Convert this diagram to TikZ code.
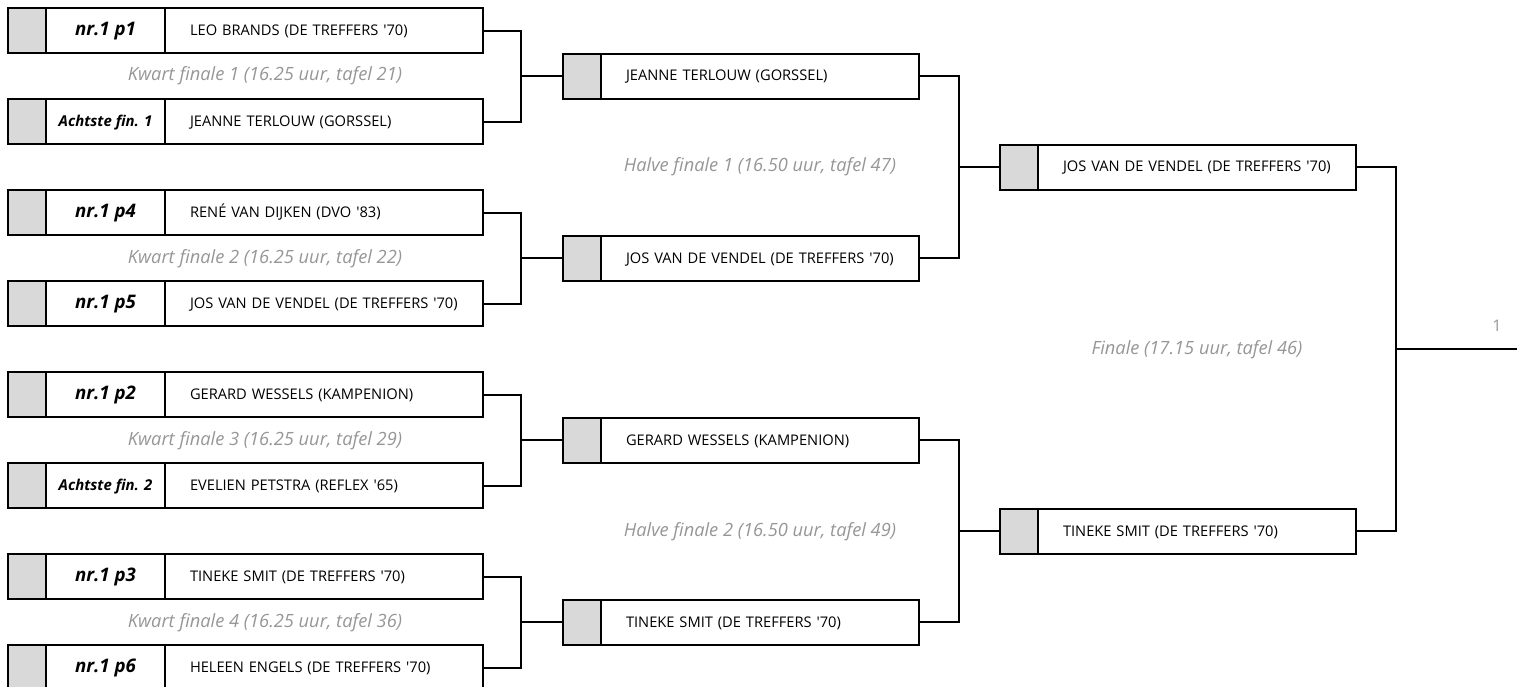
\documentclass[tikz,border=0pt]{standalone}
\usepackage{fontspec}
\setmainfont{Open Sans}
\usepackage{tikz}
\usetikzlibrary{calc}
\definecolor{cellgrey}{RGB}{217,217,217}
\definecolor{labelgrey}{RGB}{150,150,150}
\newcommand{\ap}{\textquotesingle}
\tikzset{
  grey cell/.style={draw, line width=1.5pt, fill=cellgrey, outer sep=0pt, inner sep=0pt,
    minimum width=28.5pt, minimum height=33.75pt},
  seed cell/.style={draw, line width=1.5pt, outer sep=0pt, inner sep=0pt, text height=1.4ex, text depth=0ex,
    minimum width=89.25pt, minimum height=33.75pt, font=\fontsize{14}{16}\selectfont\bfseries\itshape},
  small seed/.style={font=\fontsize{11.2}{13}\selectfont\bfseries\itshape},
  name cell/.style={draw, line width=1.5pt, outer sep=0pt, inner xsep=18.75pt, inner ysep=0pt,
    text height=1.4ex, text depth=0ex,
    minimum height=33.75pt, text width=201pt, align=left, font=\fontsize{11}{13}\selectfont},
  round label/.style={text=labelgrey, text height=1.4ex, text depth=0ex, font=\fontsize{13.7}{16}\selectfont\itshape},
  link/.style={line width=1.5pt}
}
\begin{document}
\begin{tikzpicture}[x=0.75pt, y=-0.75pt]
\useasboundingbox (0,0) rectangle (1521,686);

% kwart finales
\node (g1) at (27,30.5) [grey cell] {};
\node (s1) at (105.5,30.5) [seed cell] {nr.1 p1};
\node (n1) at (324,30.5) [name cell] {LEO BRANDS (DE TREFFERS \ap70)};
\node (g2) at (27,121.5) [grey cell] {};
\node (s2) at (105.5,121.5) [seed cell, small seed] {Achtste fin. 1};
\node (n2) at (324,121.5) [name cell] {JEANNE TERLOUW (GORSSEL)};
\node (g3) at (27,212.5) [grey cell] {};
\node (s3) at (105.5,212.5) [seed cell] {nr.1 p4};
\node (n3) at (324,212.5) [name cell] {RENÉ VAN DIJKEN (DVO \ap83)};
\node (g4) at (27,303.5) [grey cell] {};
\node (s4) at (105.5,303.5) [seed cell] {nr.1 p5};
\node (n4) at (324,303.5) [name cell] {JOS VAN DE VENDEL (DE TREFFERS \ap70)};
\node (g5) at (27,394.5) [grey cell] {};
\node (s5) at (105.5,394.5) [seed cell] {nr.1 p2};
\node (n5) at (324,394.5) [name cell] {GERARD WESSELS (KAMPENION)};
\node (g6) at (27,485.5) [grey cell] {};
\node (s6) at (105.5,485.5) [seed cell, small seed] {Achtste fin. 2};
\node (n6) at (324,485.5) [name cell] {EVELIEN PETSTRA (REFLEX \ap65)};
\node (g7) at (27,576.5) [grey cell] {};
\node (s7) at (105.5,576.5) [seed cell] {nr.1 p3};
\node (n7) at (324,576.5) [name cell] {TINEKE SMIT (DE TREFFERS \ap70)};
\node (g8) at (27,667.5) [grey cell] {};
\node (s8) at (105.5,667.5) [seed cell] {nr.1 p6};
\node (n8) at (324,667.5) [name cell] {HELEEN ENGELS (DE TREFFERS \ap70)};

\node (kf1) at (265,76) [round label] {Kwart finale 1 (16.25 uur, tafel 21)};
\node (kf2) at (265,258) [round label] {Kwart finale 2 (16.25 uur, tafel 22)};
\node (kf3) at (265,440) [round label] {Kwart finale 3 (16.25 uur, tafel 29)};
\node (kf4) at (265,622) [round label] {Kwart finale 4 (16.25 uur, tafel 36)};

% halve finales
\node (hg1) at (582,76) [grey cell] {};
\node (hn1) at (760,76) [name cell] {JEANNE TERLOUW (GORSSEL)};
\node (hg2) at (582,258) [grey cell] {};
\node (hn2) at (760,258) [name cell] {JOS VAN DE VENDEL (DE TREFFERS \ap70)};
\node (hg3) at (582,440) [grey cell] {};
\node (hn3) at (760,440) [name cell] {GERARD WESSELS (KAMPENION)};
\node (hg4) at (582,622) [grey cell] {};
\node (hn4) at (760,622) [name cell] {TINEKE SMIT (DE TREFFERS \ap70)};

\node (hf1) at (760,167) [round label] {Halve finale 1 (16.50 uur, tafel 47)};
\node (hf2) at (760,531) [round label] {Halve finale 2 (16.50 uur, tafel 49)};

% finale
\node (fg1) at (1019,167) [grey cell] {};
\node (fn1) at (1197,167) [name cell] {JOS VAN DE VENDEL (DE TREFFERS \ap70)};
\node (fg2) at (1019,531) [grey cell] {};
\node (fn2) at (1197,531) [name cell] {TINEKE SMIT (DE TREFFERS \ap70)};

\node (fin) at (1197,349) [round label] {Finale (17.15 uur, tafel 46)};
\coordinate (win) at (1517,349);
\node (w1) at (1497,326) [text=labelgrey, font=\fontsize{12}{14}\selectfont] {1};

% lijnen
\draw[link] (n1.east) -- ++(38,0) coordinate (j1) |- (n2.east);
\draw[link] (j1 |- hg1.west) -- (hg1.west);
\draw[link] (n3.east) -- ++(38,0) coordinate (j2) |- (n4.east);
\draw[link] (j2 |- hg2.west) -- (hg2.west);
\draw[link] (n5.east) -- ++(38,0) coordinate (j3) |- (n6.east);
\draw[link] (j3 |- hg3.west) -- (hg3.west);
\draw[link] (n7.east) -- ++(38,0) coordinate (j4) |- (n8.east);
\draw[link] (j4 |- hg4.west) -- (hg4.west);

\draw[link] (hn1.east) -- ++(40,0) coordinate (j5) |- (hn2.east);
\draw[link] (j5 |- fg1.west) -- (fg1.west);
\draw[link] (hn3.east) -- ++(40,0) coordinate (j6) |- (hn4.east);
\draw[link] (j6 |- fg2.west) -- (fg2.west);

\draw[link] (fn1.east) -- ++(40,0) coordinate (j7) |- (fn2.east);
\draw[link] (j7 |- win) -- (win);
\end{tikzpicture}
\end{document}
